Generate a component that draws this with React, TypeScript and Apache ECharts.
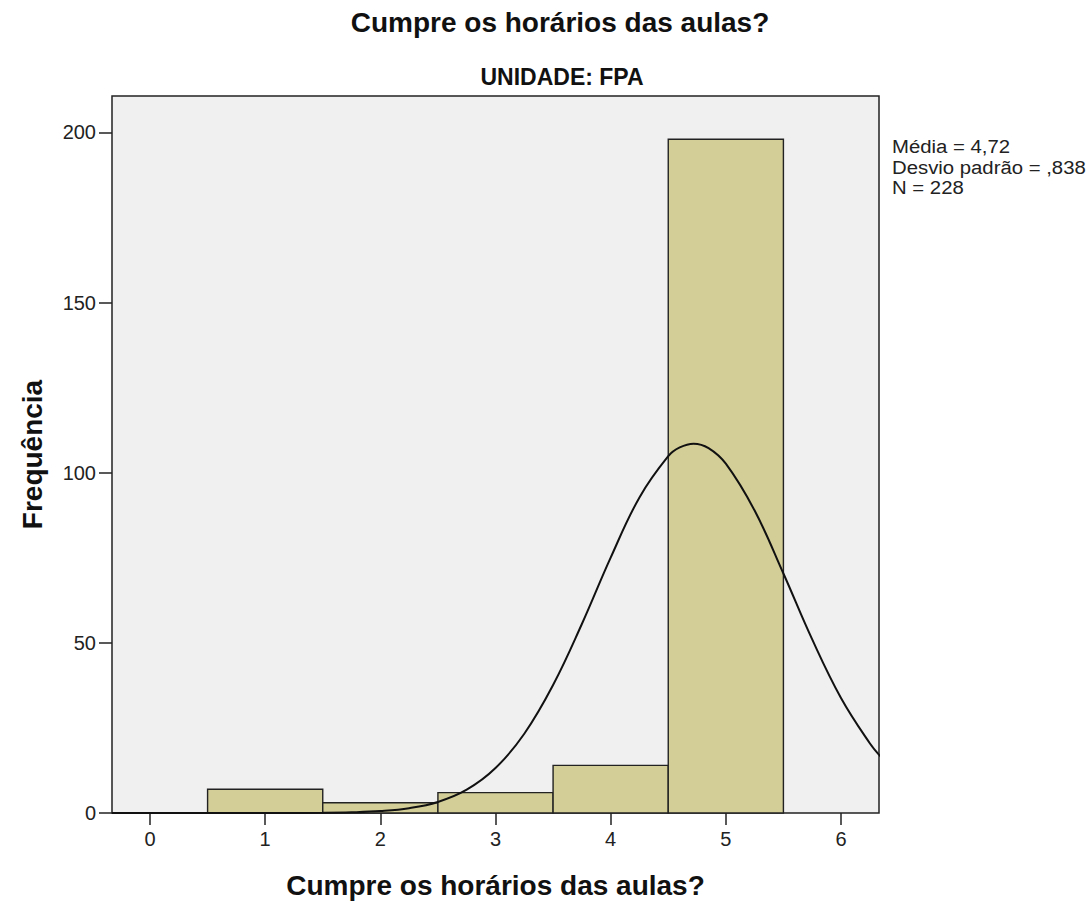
import React, { useEffect, useRef } from "react";
import * as echarts from "echarts";

// Histogram bins (midpoints) and frequencies
const binMids = [1, 2, 3, 4, 5];
const counts = [7, 3, 6, 14, 198];
const binWidth = 1;

// Normal curve (mean 4,72, sd ,838, N 228)
const curveX = [-0.33, 0.5, 1.0, 1.5, 1.75, 2.0, 2.25, 2.5, 2.75, 3.0, 3.25, 3.5, 3.75, 4.0, 4.25, 4.5, 4.6, 4.72, 4.85, 5.0, 5.25, 5.5, 5.75, 6.0, 6.25, 6.35];
const curveY = [0, 0, 0.01, 0.07, 0.2, 0.56, 1.41, 3.25, 6.85, 13.21, 23.3, 37.61, 55.54, 75.04, 92.74, 104.86, 107.43, 108.54, 107.24, 102.65, 88.87, 70.38, 51.0, 33.8, 20.5, 16.37];

const xTicks = [0, 1, 2, 3, 4, 5, 6];
const yTicks = [0, 50, 100, 150, 200];

const title = "Cumpre os horários das aulas?";
const subtitle = "UNIDADE: FPA";
const xName = "Cumpre os horários das aulas?";
const yName = "Frequência";
const statsLines = ["Média = 4,72", "Desvio padrão = ,838", "N = 228"];

const FONT = "'Liberation Sans', Arial, sans-serif";

export default function App() {
  const ref = useRef<HTMLDivElement>(null);

  useEffect(() => {
    if (!ref.current) return;
    const chart = echarts.init(ref.current, undefined, { renderer: "svg" });

    const barData = binMids.map((m, i) => [m, counts[i]]);
    const lineData = curveX.map((x, i) => [x, curveY[i]]);

    const statsGraphics = statsLines.map((s, i) => ({
      type: "text",
      x: 892,
      y: 147 + i * 20.5,
      scaleX: 1.13,
      style: {
        text: s,
        fontFamily: FONT,
        fontSize: 18,
        fill: "#222",
        textAlign: "left",
        textVerticalAlign: "middle",
      },
    }));

    chart.setOption({
      animation: false,
      backgroundColor: "#ffffff",
      textStyle: { fontFamily: FONT },
      grid: {
        left: 112,
        top: 96,
        width: 767,
        height: 721,
        show: true,
        backgroundColor: "#f0f0f0",
        borderColor: "#222222",
        borderWidth: 1.5,
      },
      xAxis: {
        type: "value",
        min: -0.33,
        max: 6.33,
        name: xName,
        nameLocation: "middle",
        nameGap: 58,
        nameTextStyle: { fontFamily: FONT, fontSize: 28, fontWeight: "bold", color: "#111" },
        axisLine: { show: false, onZero: false },
        splitLine: { show: false },
        axisTick: {
          show: true,
          length: 12,
          customValues: xTicks,
          lineStyle: { color: "#222", width: 1.5 },
        },
        axisLabel: {
          customValues: xTicks,
          fontFamily: FONT,
          fontSize: 20,
          color: "#222",
          margin: 16,
        },
      },
      yAxis: {
        type: "value",
        min: 0,
        max: 210.7,
        name: yName,
        nameLocation: "middle",
        nameGap: 66,
        nameTextStyle: { fontFamily: FONT, fontSize: 28, fontWeight: "bold", color: "#111" },
        axisLine: { show: false, onZero: false },
        splitLine: { show: false },
        axisTick: {
          show: true,
          length: 13,
          customValues: yTicks,
          lineStyle: { color: "#222", width: 1.5 },
        },
        axisLabel: {
          customValues: yTicks,
          fontFamily: FONT,
          fontSize: 20,
          color: "#222",
          margin: 16,
        },
      },
      graphic: [
        {
          type: "text",
          x: 560,
          y: 22.5,
          style: {
            text: title,
            fontFamily: FONT,
            fontSize: 28,
            fontWeight: "bold",
            fill: "#111",
            textAlign: "center",
            textVerticalAlign: "middle",
          },
        },
        {
          type: "text",
          x: 562,
          y: 76.5,
          style: {
            text: subtitle,
            fontFamily: FONT,
            fontSize: 23,
            fontWeight: "bold",
            fill: "#111",
            textAlign: "center",
            textVerticalAlign: "middle",
          },
        },
        ...statsGraphics,
      ],
      series: [
        {
          type: "custom",
          data: barData,
          z: 2,
          renderItem: (params: any, api: any) => {
            const mid = api.value(0);
            const v = api.value(1);
            const p1 = api.coord([mid - binWidth / 2, v]);
            const p2 = api.coord([mid + binWidth / 2, 0]);
            return {
              type: "rect",
              shape: { x: p1[0], y: p1[1], width: p2[0] - p1[0], height: p2[1] - p1[1] },
              style: { fill: "#d3ce98", stroke: "#222222", lineWidth: 1.4 },
            };
          },
        },
        {
          type: "line",
          data: lineData,
          z: 3,
          smooth: 0.4,
          showSymbol: false,
          symbol: "none",
          clip: true,
          lineStyle: { color: "#111", width: 2 },
        },
      ],
    });

    return () => chart.dispose();
  }, []);

  return (
    <div
      ref={ref}
      style={{ position: "fixed", left: 0, top: 0, width: 1091, height: 904, background: "#fff" }}
    />
  );
}
